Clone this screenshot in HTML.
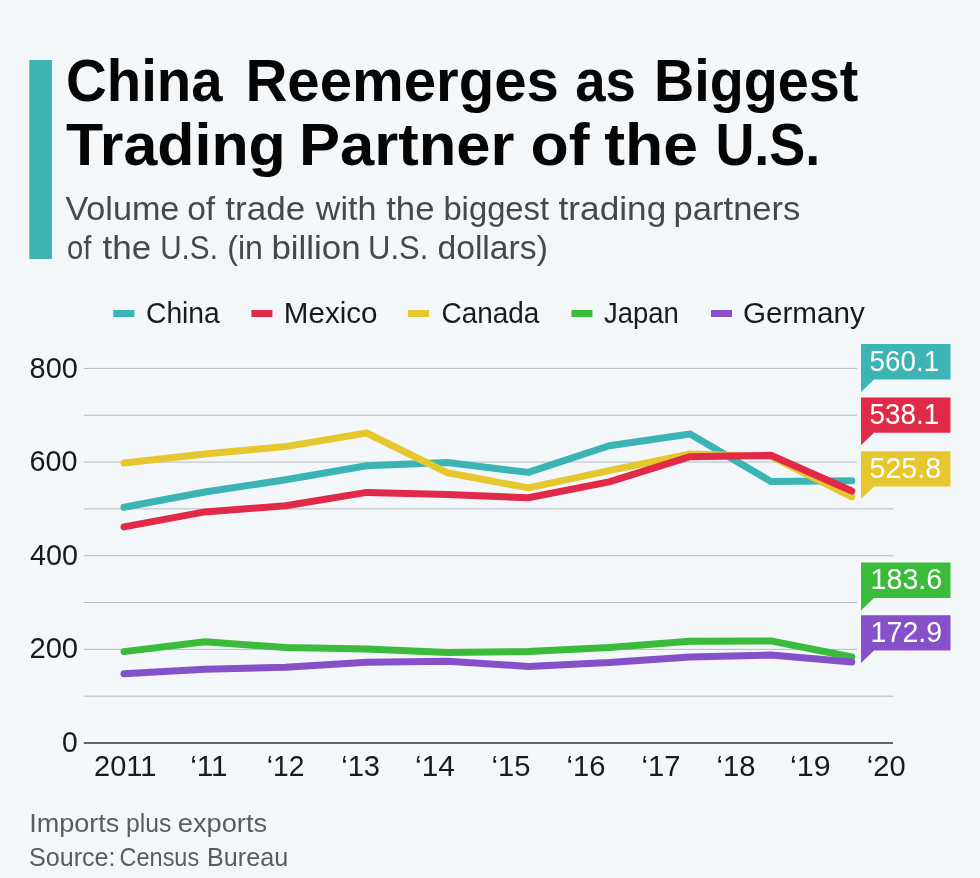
<!DOCTYPE html>
<html><head><meta charset="utf-8"><style>
html,body{margin:0;padding:0;background:#f3f7fa;width:980px;height:878px;overflow:hidden}
svg{display:block;will-change:transform}
</style></head><body>
<svg width="980" height="878" viewBox="0 0 980 878" font-family='"Liberation Sans", sans-serif'>
<rect x="0" y="0" width="980" height="878" fill="#f3f7fa"/>
<rect x="29.3" y="60" width="22.6" height="199" fill="#3cb4b4"/>
<rect x="113.3" y="310" width="21" height="7" fill="#3cb4b4"/>
<rect x="251.4" y="310" width="21" height="7" fill="#e02a48"/>
<rect x="408" y="310" width="21" height="7" fill="#e6c82e"/>
<rect x="571.4" y="310" width="21" height="7" fill="#3abb3a"/>
<rect x="711" y="310" width="21" height="7" fill="#8550c8"/>
<rect x="83.8" y="695.67" width="809.7" height="1" fill="#b5babe"/>
<rect x="83.8" y="648.85" width="773.2" height="1" fill="#b5babe"/>
<rect x="83.8" y="602.02" width="773.2" height="1" fill="#b5babe"/>
<rect x="83.8" y="555.20" width="809.7" height="1" fill="#b5babe"/>
<rect x="83.8" y="508.38" width="809.7" height="1" fill="#b5babe"/>
<rect x="83.8" y="461.55" width="773.2" height="1" fill="#b5babe"/>
<rect x="83.8" y="414.72" width="773.2" height="1" fill="#b5babe"/>
<rect x="83.8" y="367.90" width="773.2" height="1" fill="#b5babe"/>
<rect x="83.8" y="742" width="809.2" height="2" fill="#62676b"/>
<polyline points="124.0,507.3 204.9,492.0 285.7,479.8 366.6,465.7 447.5,462.5 528.3,472.4 609.2,445.7 690.1,434.0 770.9,481.4 851.8,480.7" fill="none" stroke="#3cb4b4" stroke-width="7" stroke-linecap="round" stroke-linejoin="round"/>
<polyline points="124.0,463.1 204.9,454.1 285.7,446.6 366.6,433.0 447.5,472.8 528.3,487.9 609.2,470.7 690.1,453.9 770.9,456.4 851.8,496.8" fill="none" stroke="#e6c82e" stroke-width="7" stroke-linecap="round" stroke-linejoin="round"/>
<polyline points="124.0,526.9 204.9,511.9 285.7,505.8 366.6,492.4 447.5,494.5 528.3,497.7 609.2,481.9 690.1,456.7 770.9,455.3 851.8,491.0" fill="none" stroke="#e02a48" stroke-width="7" stroke-linecap="round" stroke-linejoin="round"/>
<polyline points="124.0,651.6 204.9,641.7 285.7,647.6 366.6,649.0 447.5,652.4 528.3,651.5 609.2,647.4 690.1,641.2 770.9,640.9 851.8,657.0" fill="none" stroke="#3abb3a" stroke-width="7" stroke-linecap="round" stroke-linejoin="round"/>
<polyline points="124.0,673.7 204.9,669.3 285.7,667.3 366.6,662.2 447.5,661.2 528.3,666.4 609.2,662.6 690.1,657.0 770.9,655.1 851.8,662.0" fill="none" stroke="#8550c8" stroke-width="7" stroke-linecap="round" stroke-linejoin="round"/>
<path d="M861,344.1 H950.5 V379.4 H874 L861,391.9 Z" fill="#3cb4b4"/>
<path d="M861,397.5 H950.5 V432.8 H874 L861,445.3 Z" fill="#e02a48"/>
<path d="M861,451.2 H950.5 V486.5 H874 L861,499.0 Z" fill="#e6c82e"/>
<path d="M861,562.6 H950.5 V597.9 H874 L861,610.4 Z" fill="#3abb3a"/>
<path d="M861,615.3 H950.5 V650.6 H874 L861,663.1 Z" fill="#8550c8"/>
<text x="66.00" y="101.00" font-size="59" font-weight="700" fill="#050505" textLength="156.61" lengthAdjust="spacingAndGlyphs">China</text>
<text x="245.40" y="101.00" font-size="59" font-weight="700" fill="#050505" textLength="313.44" lengthAdjust="spacingAndGlyphs">Reemerges</text>
<text x="575.20" y="101.00" font-size="59" font-weight="700" fill="#050505" textLength="60.64" lengthAdjust="spacingAndGlyphs">as</text>
<text x="654.00" y="101.00" font-size="59" font-weight="700" fill="#050505" textLength="204.36" lengthAdjust="spacingAndGlyphs">Biggest</text>
<text x="66.00" y="165.00" font-size="59" font-weight="700" fill="#050505" textLength="219.78" lengthAdjust="spacingAndGlyphs">Trading</text>
<text x="299.00" y="165.00" font-size="59" font-weight="700" fill="#050505" textLength="215.39" lengthAdjust="spacingAndGlyphs">Partner</text>
<text x="530.60" y="165.00" font-size="59" font-weight="700" fill="#050505" textLength="58.99" lengthAdjust="spacingAndGlyphs">of</text>
<text x="604.20" y="165.00" font-size="59" font-weight="700" fill="#050505" textLength="93.70" lengthAdjust="spacingAndGlyphs">the</text>
<text x="715.40" y="165.00" font-size="59" font-weight="700" fill="#050505" textLength="104.95" lengthAdjust="spacingAndGlyphs">U.S.</text>
<text x="65.40" y="220.00" font-size="33" fill="#43494d" textLength="113.98" lengthAdjust="spacingAndGlyphs">Volume</text>
<text x="187.20" y="220.00" font-size="33" fill="#43494d" textLength="27.93" lengthAdjust="spacingAndGlyphs">of</text>
<text x="225.20" y="220.00" font-size="33" fill="#43494d" textLength="80.02" lengthAdjust="spacingAndGlyphs">trade</text>
<text x="315.80" y="220.00" font-size="33" fill="#43494d" textLength="60.59" lengthAdjust="spacingAndGlyphs">with</text>
<text x="386.20" y="220.00" font-size="33" fill="#43494d" textLength="48.28" lengthAdjust="spacingAndGlyphs">the</text>
<text x="443.40" y="220.00" font-size="33" fill="#43494d" textLength="105.72" lengthAdjust="spacingAndGlyphs">biggest</text>
<text x="558.60" y="220.00" font-size="33" fill="#43494d" textLength="107.61" lengthAdjust="spacingAndGlyphs">trading</text>
<text x="673.60" y="220.00" font-size="33" fill="#43494d" textLength="126.76" lengthAdjust="spacingAndGlyphs">partners</text>
<text x="67.00" y="258.70" font-size="33" fill="#43494d" textLength="24.33" lengthAdjust="spacingAndGlyphs">of</text>
<text x="102.60" y="258.70" font-size="33" fill="#43494d" textLength="48.67" lengthAdjust="spacingAndGlyphs">the</text>
<text x="160.20" y="258.70" font-size="33" fill="#43494d" textLength="57.69" lengthAdjust="spacingAndGlyphs">U.S.</text>
<text x="227.20" y="258.70" font-size="33" fill="#43494d" textLength="35.79" lengthAdjust="spacingAndGlyphs">(in</text>
<text x="271.40" y="258.70" font-size="33" fill="#43494d" textLength="89.19" lengthAdjust="spacingAndGlyphs">billion</text>
<text x="368.00" y="258.70" font-size="33" fill="#43494d" textLength="60.29" lengthAdjust="spacingAndGlyphs">U.S.</text>
<text x="437.40" y="258.70" font-size="33" fill="#43494d" textLength="110.50" lengthAdjust="spacingAndGlyphs">dollars)</text>
<text x="146.00" y="323.00" font-size="29" fill="#1a1a1a" textLength="73.78" lengthAdjust="spacingAndGlyphs">China</text>
<text x="283.80" y="323.00" font-size="29" fill="#1a1a1a" textLength="93.76" lengthAdjust="spacingAndGlyphs">Mexico</text>
<text x="441.60" y="323.00" font-size="29" fill="#1a1a1a" textLength="97.79" lengthAdjust="spacingAndGlyphs">Canada</text>
<text x="604.00" y="323.00" font-size="29" fill="#1a1a1a" textLength="74.82" lengthAdjust="spacingAndGlyphs">Japan</text>
<text x="743.00" y="323.00" font-size="29" fill="#1a1a1a" textLength="121.77" lengthAdjust="spacingAndGlyphs">Germany</text>
<text x="29.60" y="377.50" font-size="29.5" fill="#1a1a1a" textLength="48.23" lengthAdjust="spacingAndGlyphs">800</text>
<text x="29.60" y="471.15" font-size="29.5" fill="#1a1a1a" textLength="48.03" lengthAdjust="spacingAndGlyphs">600</text>
<text x="30.00" y="564.80" font-size="29.5" fill="#1a1a1a" textLength="47.93" lengthAdjust="spacingAndGlyphs">400</text>
<text x="29.40" y="658.45" font-size="29.5" fill="#1a1a1a" textLength="48.73" lengthAdjust="spacingAndGlyphs">200</text>
<text x="62.00" y="752.10" font-size="29.5" fill="#1a1a1a" textLength="15.72" lengthAdjust="spacingAndGlyphs">0</text>
<text x="94.00" y="776.00" font-size="29" fill="#1a1a1a" textLength="62.38" lengthAdjust="spacingAndGlyphs">2011</text>
<text x="190.20" y="776.00" font-size="29" fill="#1a1a1a" textLength="37.46" lengthAdjust="spacingAndGlyphs">‘11</text>
<text x="266.80" y="776.00" font-size="29" fill="#1a1a1a" textLength="37.70" lengthAdjust="spacingAndGlyphs">‘12</text>
<text x="341.20" y="776.00" font-size="29" fill="#1a1a1a" textLength="38.90" lengthAdjust="spacingAndGlyphs">‘13</text>
<text x="415.00" y="776.00" font-size="29" fill="#1a1a1a" textLength="39.80" lengthAdjust="spacingAndGlyphs">‘14</text>
<text x="491.60" y="776.00" font-size="29" fill="#1a1a1a" textLength="38.90" lengthAdjust="spacingAndGlyphs">‘15</text>
<text x="566.60" y="776.00" font-size="29" fill="#1a1a1a" textLength="38.90" lengthAdjust="spacingAndGlyphs">‘16</text>
<text x="641.60" y="776.00" font-size="29" fill="#1a1a1a" textLength="38.90" lengthAdjust="spacingAndGlyphs">‘17</text>
<text x="716.60" y="776.00" font-size="29" fill="#1a1a1a" textLength="38.90" lengthAdjust="spacingAndGlyphs">‘18</text>
<text x="790.00" y="776.00" font-size="29" fill="#1a1a1a" textLength="40.60" lengthAdjust="spacingAndGlyphs">‘19</text>
<text x="866.80" y="776.00" font-size="29" fill="#1a1a1a" textLength="38.80" lengthAdjust="spacingAndGlyphs">‘20</text>
<text x="869.60" y="370.70" font-size="29" fill="#ffffff" textLength="69.68" lengthAdjust="spacingAndGlyphs">560.1</text>
<text x="869.60" y="424.10" font-size="29" fill="#ffffff" textLength="69.68" lengthAdjust="spacingAndGlyphs">538.1</text>
<text x="869.60" y="477.80" font-size="29" fill="#ffffff" textLength="71.48" lengthAdjust="spacingAndGlyphs">525.8</text>
<text x="870.60" y="589.10" font-size="29" fill="#ffffff" textLength="71.58" lengthAdjust="spacingAndGlyphs">183.6</text>
<text x="870.60" y="641.60" font-size="29" fill="#ffffff" textLength="71.58" lengthAdjust="spacingAndGlyphs">172.9</text>
<text x="29.20" y="831.50" font-size="25.5" fill="#575d61" textLength="90.23" lengthAdjust="spacingAndGlyphs">Imports</text>
<text x="126.00" y="831.50" font-size="25.5" fill="#575d61" textLength="45.28" lengthAdjust="spacingAndGlyphs">plus</text>
<text x="177.80" y="831.50" font-size="25.5" fill="#575d61" textLength="89.33" lengthAdjust="spacingAndGlyphs">exports</text>
<text x="29.00" y="865.50" font-size="25.5" fill="#575d61" textLength="86.49" lengthAdjust="spacingAndGlyphs">Source:</text>
<text x="119.60" y="865.50" font-size="25.5" fill="#575d61" textLength="79.57" lengthAdjust="spacingAndGlyphs">Census</text>
<text x="207.00" y="865.50" font-size="25.5" fill="#575d61" textLength="81.23" lengthAdjust="spacingAndGlyphs">Bureau</text>
</svg>
</body></html>
